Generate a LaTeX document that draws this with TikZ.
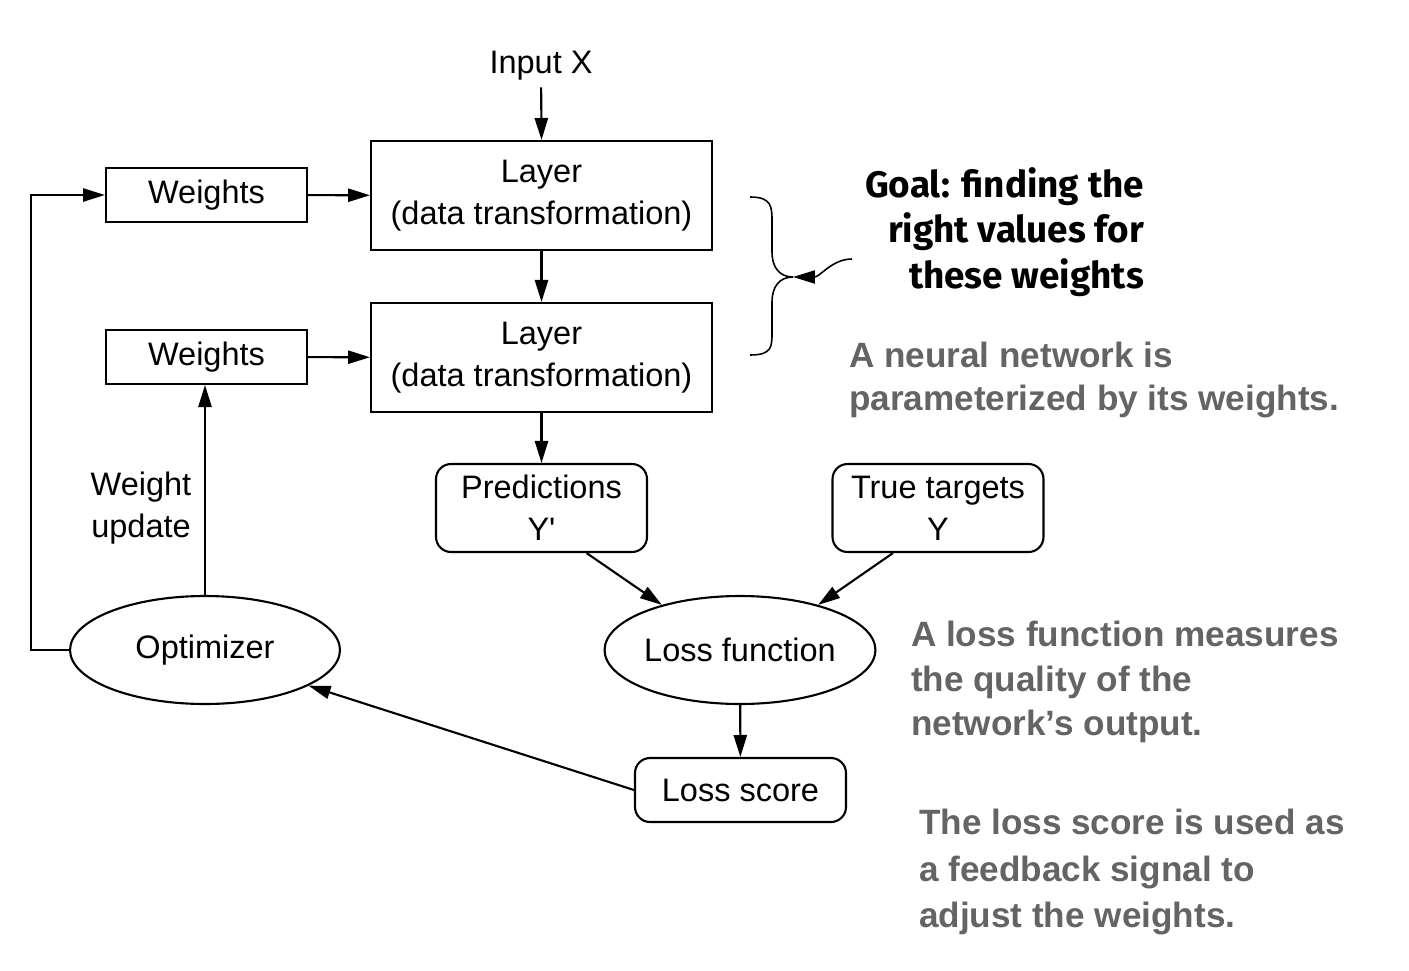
\documentclass[tikz,border=0pt]{standalone}
\usepackage{fontspec}
\setmainfont{Liberation Sans}
\newfontfamily\goalfont{Fira Sans}
\usetikzlibrary{arrows.meta, shapes.geometric}
\definecolor{notegray}{RGB}{100,100,100}
\tikzset{arr/.style = {-{Triangle[length=12.5pt, width=7.5pt]}}}
\tikzset{every node/.append style = {font=\fontsize{18.5}{24}\selectfont}}
\tikzset{layerbox/.style = {draw, align=center, minimum width=6.82cm, minimum height=2.18cm, inner sep=0pt}}
\tikzset{wbox/.style = {draw, minimum width=4.02cm, minimum height=1.08cm, inner sep=0pt}}
\tikzset{rbox/.style = {draw, rounded corners=0.3cm, align=center, minimum width=4.22cm, inner sep=0pt}}
\tikzset{oval/.style = {draw, ellipse, minimum width=5.4cm, minimum height=2.16cm, inner sep=0pt}}
\tikzset{greynote/.style = {anchor=west, align=left, inner sep=0pt, text=notegray,
    font=\fontsize{20}{25}\selectfont\bfseries}}

\begin{document}
\begin{tikzpicture}[x=0.02cm, y=-0.02cm, line width=1.2pt]
\useasboundingbox (0,0) rectangle (1409,970);
% layers
\node (in) at (541,66) {Input X};
\node [layerbox] (l1) at (541.5,195.5) {Layer\\(data transformation)};
\node [layerbox] (l2) at (541.5,357.5) {Layer\\(data transformation)};
\node [wbox] (w1) at (206.5,195) {Weights};
\node [wbox] (w2) at (206.5,357) {Weights};
\node [rbox, minimum height=1.76cm] (pred) at (541.5,508) {Predictions\\Y\textquotesingle};
\node [rbox, minimum height=1.76cm] (tt) at (938,508) {True targets\\Y};
\node [oval] (loss) at (740,650) {Loss function};
\node [oval] (opt) at (205,650) {Optimizer};
\node [rbox, minimum height=1.28cm] (ls) at (740.5,790) {Loss score};
\node [align=center] (wu) at (141,508) {Weight\\update};
\draw [arr] (in) -- (l1.north);
\draw [arr] (l1) -- (l2);
\draw [arr] (l2) -- (pred);
\draw [arr] (w1) -- (l1);
\draw [arr] (w2) -- (l2);
\draw [arr] (pred.-45) -- (loss.150);
\draw [arr] (tt.-135) -- (loss.30);
\draw [arr] (loss) -- (ls);
\draw [arr] (ls.west) -- (opt.-19);
\draw [arr] (opt.north) -- (opt.north |- w2.south);
\draw [arr] (opt.west) -- ++(-38,0) |- (w1.west);
% brace and goal
\coordinate (bracetip) at (793,277);
\coordinate (wavestart) at (852,259);
\draw [line width=0.9pt] (750,197) .. controls (772,197) and (772,207) .. (772,222) -- (772,252)
  .. controls (772,268) and (780,277) .. (bracetip)
  .. controls (780,277) and (772,286) .. (772,302) -- (772,332)
  .. controls (772,347) and (772,355) .. (750,355);
\draw [arr, line width=0.9pt] (wavestart) .. controls (832,259) and (820,277) .. (bracetip);
\node [anchor=east, align=right, inner sep=0pt, font=\fontsize{21}{25.8}\selectfont\goalfont\bfseries] (goal)
  at (1145,232) {Goal: finding the\\right values for\\these weights};
% notes
\node [greynote] (n1) at (848,380) {A neural network is\\parameterized by its weights.};
\node [greynote, font=\fontsize{20}{25.3}\selectfont\bfseries] (n2) at (910,682) {A loss function measures\\the quality of the\\network’s output.};
\node [greynote, font=\fontsize{20}{26.4}\selectfont\bfseries] (n3) at (918,872) {The loss score is used as\\a feedback signal to\\adjust the weights.};
\end{tikzpicture}
\end{document}
